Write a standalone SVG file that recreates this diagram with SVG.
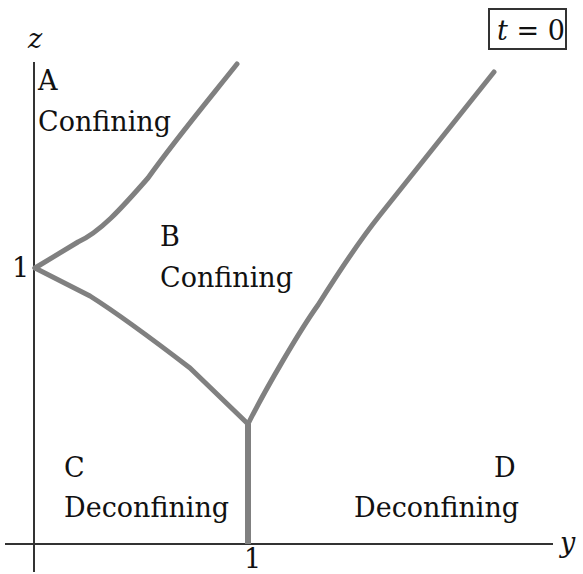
<svg xmlns="http://www.w3.org/2000/svg" width="583" height="574" viewBox="0 0 583 574">
<style>
text{font-family:"DejaVu Serif","Liberation Serif",serif;font-size:27px;fill:#111}
.it{font-style:italic}
.axis{stroke:#333;stroke-width:2;fill:none}
.curve{stroke:#808080;stroke-width:5;fill:none;stroke-linecap:round;stroke-linejoin:round}
</style>
<rect width="583" height="574" fill="#fff"/>
<g id="axes">
<line class="axis" x1="34" y1="62" x2="34" y2="572"/>
<line class="axis" x1="5" y1="544" x2="553" y2="544"/>
<text class="it" x="28" y="48" font-size="26">z</text>
<text class="it" x="560" y="552" font-size="26">y</text>
<text x="12" y="277" font-size="22">1</text>
<text x="244" y="568" font-size="20">1</text>
</g>
<g id="connectors">
<path class="curve" d="M237,64 C210,98 175,140 148,178 C120,210 100,232 78,242 L35,268"/>
<path class="curve" d="M35,268 L90,296 C120,315 160,345 190,368 L248,424"/>
<path class="curve" d="M248,424 C265,390 300,330 318,305 C340,270 360,240 380,215 L494,72"/>
<line x1="248" y1="424" x2="248" y2="544" stroke="#808080" stroke-width="6"/>
</g>
<g id="A"><text x="38" y="90">A</text><text x="38" y="131">Confining</text></g>
<g id="B"><text x="160" y="246">B</text><text x="160" y="287">Confining</text></g>
<g id="C"><text x="64" y="477">C</text><text x="64" y="517">Deconfining</text></g>
<g id="D"><text x="494" y="477">D</text><text x="354" y="517">Deconfining</text></g>
<g id="label-t">
<rect x="489" y="9" width="77" height="40" fill="#fff" stroke="#333" stroke-width="2"/>
<text x="497" y="40" font-size="26"><tspan class="it">t</tspan> = 0</text>
</g>
</svg>
